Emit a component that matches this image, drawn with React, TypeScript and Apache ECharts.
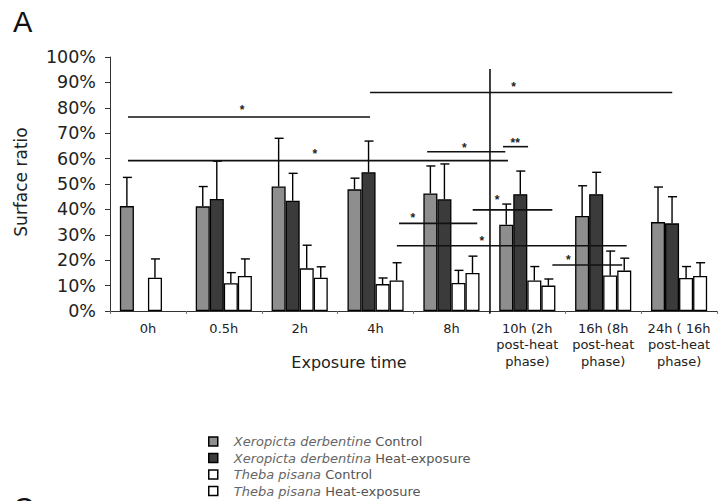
import { useEffect, useRef } from 'react';
import * as echarts from 'echarts';

const FONT = '"DejaVu Sans", Verdana, sans-serif';
const FONT_A = '"Liberation Sans", Arial, sans-serif';

const categories = [
  '0h',
  '0.5h',
  '2h',
  '4h',
  '8h',
  '10h (2h\npost-heat\nphase)',
  '16h (8h\npost-heat\nphase)',
  '24h ( 16h\npost-heat\nphase)',
];

// mean values (%) and top of error bar (%), null = no bar
const xdControl = [41.3, 41.2, 49.0, 47.9, 46.3, 34.0, 37.4, 35.0];
const xdControlErr = [52.6, 49.0, 68.0, 52.3, 57.1, 42.1, 49.3, 48.8];
const xdHeat = [null, 44.1, 43.4, 54.6, 44.0, 46.0, 46.0, 34.5];
const xdHeatErr = [null, 59.0, 54.2, 66.9, 57.9, 55.1, 54.6, 45.0];
const tpControl = [13.1, 10.9, 16.8, 10.6, 11.0, 12.0, 14.0, 13.0];
const tpControlErr = [20.5, 15.1, 25.9, 13.0, 16.0, 17.5, 23.6, 17.5];
const tpHeat = [null, 13.8, 13.1, 12.0, 15.0, 10.0, 15.9, 13.8];
const tpHeatErr = [null, 20.5, 17.4, 19.0, 21.6, 12.6, 20.8, 19.0];

const species = ['Xeropicta derbentine', 'Xeropicta derbentina', 'Theba pisana', 'Theba pisana'];
const groups = ['Control', 'Heat-exposure', 'Control', 'Heat-exposure'];
const barColors = ['#8e8e8e', '#3b3b3b', '#ffffff', '#ffffff'];

const yTicks = { min: 0, max: 100, interval: 10 };

// significance lines: [xStart, xEnd, y] with x in category-position units (0..8)
const sigLines: number[][] = [
  [0.237, 3.427, 76.4],
  [0.237, 5.245, 59.2],
  [3.427, 7.41, 86.0],
  [4.18, 5.21, 62.7],
  [5.18, 5.51, 64.7],
  [3.81, 4.84, 34.5],
  [3.78, 6.81, 25.7],
  [4.78, 5.83, 39.8],
  [5.83, 6.75, 18.1],
];
// significance marks: [x, y]
const sigMarkPos: number[][] = [
  [1.74, 80.3],
  [2.7, 63.0],
  [5.32, 89.4],
  [4.67, 65.4],
  [5.34, 67.3],
  [3.99, 37.8],
  [4.9, 28.6],
  [5.1, 45.0],
  [6.04, 21.2],
];
const sigMarkText = ['*', '*', '*', '*', '**', '*', '*', '*', '*'];
// vertical divider between heat phase and post-heat phase: [x, yBottom, yTop]
const divider: number[][] = [[5.008, -1, 95.3]];

const means = [xdControl, xdHeat, tpControl, tpHeat];
const errs = [xdControlErr, xdHeatErr, tpControlErr, tpHeatErr];

const CAT_GAP = 0.26;

export default function App() {
  const ref = useRef<HTMLDivElement>(null);
  useEffect(() => {
    if (!ref.current) return;
    const chart = echarts.init(ref.current, undefined, { renderer: 'svg' });

    const barSeries = means.map((vals, k) => ({
      name: `${species[k]} ${groups[k]}`,
      type: 'bar',
      xAxisIndex: 0,
      yAxisIndex: 0,
      data: vals.map((v) => (v === null ? '-' : v)),
      barGap: '0%',
      barCategoryGap: `${CAT_GAP * 100}%`,
      itemStyle: { color: barColors[k], borderColor: '#000', borderWidth: 1.3 },
      z: 2,
    }));

    const errSeries = means.map((vals, k) => ({
      type: 'custom',
      xAxisIndex: 0,
      yAxisIndex: 0,
      z: 3,
      silent: true,
      data: vals
        .map((v, i) => (v === null ? null : [i, v, errs[k][i] as number]))
        .filter((d) => d !== null),
      renderItem: (params: any, api: any) => {
        const i = api.value(0);
        const base = api.coord([i, api.value(1)]);
        const top = api.coord([i, api.value(2)]);
        const band = api.size([1, 0])[0];
        const bw = (band * (1 - CAT_GAP)) / 4;
        const cx = base[0] + (k - 1.5) * bw;
        const st = { stroke: '#000', lineWidth: 1.4 };
        return {
          type: 'group',
          children: [
            { type: 'line', shape: { x1: cx, y1: base[1], x2: cx, y2: top[1] }, style: st },
            { type: 'line', shape: { x1: cx - 4, y1: top[1], x2: cx + 5, y2: top[1] }, style: st },
          ],
        };
      },
    }));

    const sigLineSeries = {
      type: 'custom',
      xAxisIndex: 1,
      yAxisIndex: 0,
      z: 4,
      silent: true,
      data: sigLines,
      renderItem: (params: any, api: any) => {
        const p1 = api.coord([api.value(0), api.value(2)]);
        const p2 = api.coord([api.value(1), api.value(2)]);
        return {
          type: 'line',
          shape: { x1: p1[0], y1: p1[1], x2: p2[0], y2: p2[1] },
          style: { stroke: '#111', lineWidth: 1.6 },
        };
      },
    };

    const dividerSeries = {
      type: 'custom',
      xAxisIndex: 1,
      yAxisIndex: 0,
      z: 4,
      silent: true,
      clip: false,
      data: divider,
      renderItem: (params: any, api: any) => {
        const p1 = api.coord([api.value(0), api.value(1)]);
        const p2 = api.coord([api.value(0), api.value(2)]);
        return {
          type: 'line',
          shape: { x1: p1[0], y1: p1[1], x2: p2[0], y2: p2[1] },
          style: { stroke: '#111', lineWidth: 1.6 },
        };
      },
    };

    const sigMarkSeries = {
      type: 'custom',
      xAxisIndex: 1,
      yAxisIndex: 0,
      z: 5,
      silent: true,
      data: sigMarkPos,
      renderItem: (params: any, api: any) => {
        const p = api.coord([api.value(0), api.value(1)]);
        return {
          type: 'text',
          x: p[0],
          y: p[1] + 3,
          style: {
            text: sigMarkText[params.dataIndex],
            fontSize: 12,
            fontFamily: FONT_A,
            fontWeight: 'bold',
            fill: '#222',
            align: 'center',
            verticalAlign: 'middle',
          },
        };
      },
    };

    chart.setOption({
      animation: false,
      backgroundColor: '#ffffff',
      grid: { left: 110, right: 3, top: 57, bottom: 190, containLabel: false },
      xAxis: [
        {
          type: 'category',
          data: categories,
          axisLine: { lineStyle: { color: '#333', width: 1 } },
          axisTick: { show: true, length: 3, lineStyle: { color: '#777' } },
          axisLabel: {
            interval: 0,
            margin: 9,
            fontSize: 13,
            lineHeight: 16.5,
            color: '#222',
            fontFamily: FONT,
          },
          splitLine: { show: false },
        },
        {
          type: 'value',
          min: 0,
          max: 8,
          show: false,
          splitLine: { show: false },
        },
      ],
      yAxis: {
        type: 'value',
        min: yTicks.min,
        max: yTicks.max,
        interval: yTicks.interval,
        axisLine: { show: true, lineStyle: { color: '#333', width: 1 } },
        axisTick: { show: true, length: 5, lineStyle: { color: '#333' } },
        axisLabel: {
          formatter: '{value}%',
          fontSize: 17.5,
          margin: 14,
          color: '#222',
          fontFamily: FONT,
        },
        splitLine: { show: false },
      },
      legend: {
        orient: 'vertical',
        left: 208,
        top: 435,
        padding: 0,
        itemWidth: 9,
        itemHeight: 9,
        itemGap: 3.5,
        icon: 'rect',
        itemStyle: { borderColor: '#000', borderWidth: 1.5 },
        data: means.map((_, k) => `${species[k]} ${groups[k]}`),
        formatter: (name: string) => {
          const k = means.findIndex((_, j) => `${species[j]} ${groups[j]}` === name);
          return `{i|${species[k]}}{n| ${groups[k]}}`;
        },
        textStyle: {
          fontFamily: FONT,
          fontSize: 13,
          lineHeight: 13,
          color: '#444',
          rich: {
            i: {
              fontStyle: 'italic',
              fontSize: 13,
              lineHeight: 13,
              color: '#666',
              fontFamily: FONT,
              padding: [0, 0, 0, 11],
            },
            n: { fontSize: 13, lineHeight: 13, color: '#555', fontFamily: FONT },
          },
        },
      },
      graphic: [
        {
          type: 'text',
          left: 13,
          top: 7,
          style: { text: 'A', fontSize: 29, fontFamily: FONT_A, fill: '#111' },
        },
        {
          type: 'text',
          x: 21,
          y: 182,
          rotation: Math.PI / 2,
          style: {
            text: 'Surface ratio',
            fontSize: 17,
            fontFamily: FONT,
            fill: '#222',
            align: 'center',
            verticalAlign: 'middle',
          },
        },
        {
          type: 'text',
          x: 349,
          y: 362,
          style: {
            text: 'Exposure time',
            fontSize: 16,
            fontFamily: FONT,
            fill: '#222',
            align: 'center',
            verticalAlign: 'middle',
          },
        },
        {
          type: 'text',
          left: 13,
          top: 493,
          style: { text: 'C', fontSize: 29, fontFamily: FONT_A, fill: '#111' },
        },
      ],
      series: [...barSeries, ...errSeries, sigLineSeries, dividerSeries, sigMarkSeries],
    });

    return () => chart.dispose();
  }, []);

  return (
    <div
      ref={ref}
      style={{ position: 'fixed', left: 0, top: 0, width: 720, height: 501 }}
    />
  );
}
